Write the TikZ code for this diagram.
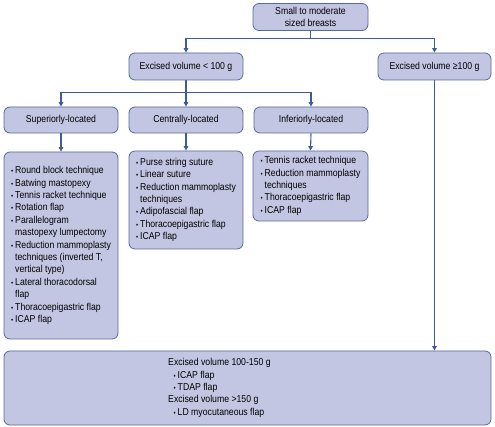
\documentclass[tikz,border=0pt]{standalone}
\usepackage{fontspec}
\setmainfont{Liberation Sans}[FakeStretch=0.87]
\usetikzlibrary{arrows.meta}
\definecolor{boxfill}{RGB}{195,198,226}
\definecolor{boxline}{RGB}{85,105,155}
\definecolor{conncol}{RGB}{62,92,150}
\newcommand{\bul}{\makebox[4pt][l]{\fontsize{7}{7}\selectfont •}}
\newcommand{\ind}{\hspace*{4pt}}
\begin{document}
\begin{tikzpicture}[x=1pt,y=-1pt,
  box/.style={draw=boxline, fill=boxfill, rounded corners=6pt, line width=0.8pt, inner sep=0pt, font=\fontsize{10}{12.6}\selectfont, align=center},
  txt/.style={inner sep=0pt, align=left, anchor=west, font=\fontsize{10}{12.4}\selectfont},
  conn/.style={draw=conncol, line width=1.1pt, -{Triangle[width=4.5pt,length=4.5pt]}}]
\useasboundingbox (0,0) rectangle (495,427);
\node[box, minimum width=115pt, minimum height=27pt] (top) at (310.5,17) {Small to moderate\\sized breasts};
\node[box, minimum width=114pt, minimum height=27pt] (lt100) at (186,66.5) {Excised volume < 100 g};
\node[box, minimum width=113pt, minimum height=27pt] (ge100) at (434.5,66.5) {Excised volume ≥100 g};
\node[box, minimum width=114pt, minimum height=26pt] (sup) at (61,120) {Superiorly-located};
\node[box, minimum width=114pt, minimum height=26pt] (cent) at (186,120) {Centrally-located};
\node[box, minimum width=114pt, minimum height=26pt] (inf) at (311,120) {Inferiorly-located};
\node[box, minimum width=114pt, minimum height=187pt] (suplist) at (61,245.5) {};
\node[box, minimum width=114pt, minimum height=98pt] (centlist) at (186,200) {};
\node[box, minimum width=115pt, minimum height=70pt] (inflist) at (310.5,186) {};
\node[box, minimum width=487pt, minimum height=74pt] (bottom) at (247.5,388) {};
\node[txt] (suptxt) at (11,245.5) {\bul Round block technique\\
\bul Batwing mastopexy\\
\bul Tennis racket technique\\
\bul Rotation flap\\
\bul Parallelogram\\
\ind mastopexy lumpectomy\\
\bul Reduction mammoplasty\\
\ind techniques (inverted T,\\
\ind vertical type)\\
\bul Lateral thoracodorsal\\
\ind flap\\
\bul Thoracoepigastric flap\\
\bul ICAP flap};
\node[txt] (centtxt) at (136,200) {\bul Purse string suture\\
\bul Linear suture\\
\bul Reduction mammoplasty\\
\ind techniques\\
\bul Adipofascial flap\\
\bul Thoracoepigastric flap\\
\bul ICAP flap};
\node[txt] (inftxt) at (260.5,186) {\bul Tennis racket technique\\
\bul Reduction mammoplasty\\
\ind techniques\\
\bul Thoracoepigastric flap\\
\bul ICAP flap};
\node[txt] (bottxt) at (168,388) {Excised volume 100-150 g\\
\hspace*{5.5pt}\bul ICAP flap\\
\hspace*{5.5pt}\bul TDAP flap\\
Excised volume >150 g\\
\hspace*{5.5pt}\bul LD myocutaneous flap};
\draw[conn] (top.south) -- ++(0,7.5) -| (lt100.north);
\draw[conn] (top.south) -- ++(0,7.5) -| (ge100.north);
\draw[conn] (lt100.south) -- ++(0,12) -| (sup.north);
\draw[conn] (lt100.south) -- ++(0,12) -| (cent.north);
\draw[conn] (lt100.south) -- ++(0,12) -| (inf.north);
\draw[conn] (sup.south) -- (suplist.north);
\draw[conn] (cent.south) -- (centlist.north);
\draw[conn] (inf.south) -- (inflist.north);
\draw[conn] (ge100.south) -- (ge100.south |- bottom.north);
\end{tikzpicture}
\end{document}
